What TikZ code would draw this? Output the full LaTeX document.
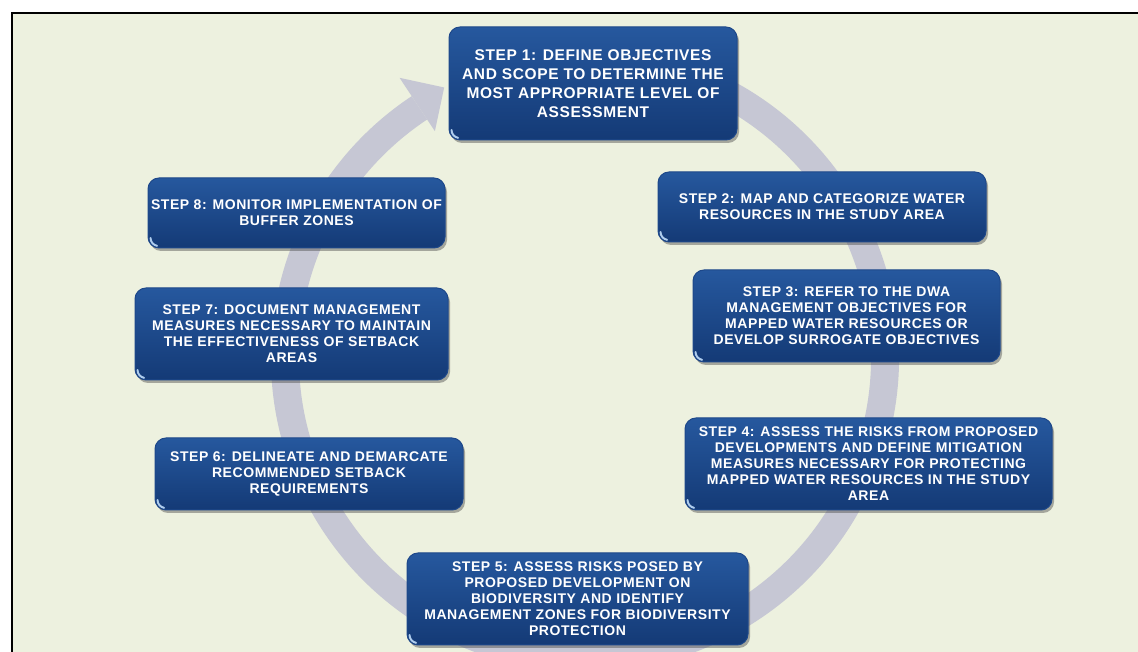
\documentclass[tikz,border=0pt]{standalone}
\usepackage{fontspec}
\setmainfont{Liberation Sans}
\newfontfamily\stepfont[LetterSpace=4]{Liberation Sans}
\usetikzlibrary{shadows}
\definecolor{bgc}{RGB}{237,241,223}
\definecolor{ringc}{RGB}{198,199,212}
\definecolor{boxtop}{RGB}{38,88,158}
\definecolor{boxbot}{RGB}{20,58,118}
\definecolor{boxedge}{RGB}{30,72,138}
\definecolor{glint}{RGB}{175,205,238}
\tikzset{
  stepbox/.style={rounded corners=11pt, top color=boxtop, bottom color=boxbot,
    draw=boxedge, line width=1pt, text=white,
    font=\stepfont\bfseries\fontsize{14}{16}\selectfont,
    align=center, inner sep=0pt,
    drop shadow={shadow xshift=2pt, shadow yshift=-3pt, opacity=0.45, fill=black!70},
    path picture={\draw[glint, line width=2pt, line cap=round]
      ([xshift=2.5pt,yshift=10pt]path picture bounding box.south west)
      arc[start angle=180, end angle=260, radius=8pt];}},
  bigtext/.style={font=\stepfont\bfseries\fontsize{15.5}{19}\selectfont},
  ring/.style={draw=ringc, line width=28pt}
}
\begin{document}
\begin{tikzpicture}[x=1pt,y=1pt]
\useasboundingbox (0,0) rectangle (1138,652);
\fill[white] (0,0) rectangle (1138,652);
\fill[bgc] (13,0) rectangle (1138,638);
\draw[line width=2pt] (12,0) -- (12,639) -- (1138,639);

% circular arrow
\coordinate (C) at (585,294);
\draw[ring, shift={(C)}] (75:300pt) arc[start angle=75, end angle=-236.5, radius=300pt];
\fill[ringc, shift={(C)}] (123.5:336pt) -- (117.5:305pt) -- (123.5:272pt) -- cycle;

% steps
\node[stepbox, bigtext, minimum width=288pt, minimum height=113pt] (s1) at (593,568.5)
  {STEP 1: DEFINE OBJECTIVES\\AND SCOPE TO DETERMINE THE\\MOST APPROPRIATE LEVEL OF\\ASSESSMENT};
\node[stepbox, minimum width=328pt, minimum height=70pt] (s2) at (822,445)
  {STEP 2: MAP AND CATEGORIZE WATER\\RESOURCES IN THE STUDY AREA};
\node[stepbox, minimum width=307pt, minimum height=92pt] (s3) at (846.5,336)
  {STEP 3: REFER TO THE DWA\\MANAGEMENT OBJECTIVES FOR\\MAPPED WATER RESOURCES OR\\DEVELOP SURROGATE OBJECTIVES};
\node[stepbox, minimum width=367pt, minimum height=92pt] (s4) at (868.5,188)
  {STEP 4: ASSESS THE RISKS FROM PROPOSED\\DEVELOPMENTS AND DEFINE MITIGATION\\MEASURES NECESSARY FOR PROTECTING\\MAPPED WATER RESOURCES IN THE STUDY\\AREA};
\node[stepbox, minimum width=341pt, minimum height=92pt] (s5) at (577.5,53)
  {STEP 5: ASSESS RISKS POSED BY\\PROPOSED DEVELOPMENT ON\\BIODIVERSITY AND IDENTIFY\\MANAGEMENT ZONES FOR BIODIVERSITY\\PROTECTION};
\node[stepbox, minimum width=308pt, minimum height=72pt] (s6) at (309,178)
  {STEP 6: DELINEATE AND DEMARCATE\\RECOMMENDED SETBACK\\REQUIREMENTS};
\node[stepbox, minimum width=313pt, minimum height=92pt] (s7) at (291.5,318)
  {STEP 7: DOCUMENT MANAGEMENT\\MEASURES NECESSARY TO MAINTAIN\\THE EFFECTIVENESS OF SETBACK\\AREAS};
\node[stepbox, minimum width=297pt, minimum height=70pt] (s8) at (296.5,439)
  {STEP 8: MONITOR IMPLEMENTATION OF\\BUFFER ZONES};
\end{tikzpicture}
\end{document}
